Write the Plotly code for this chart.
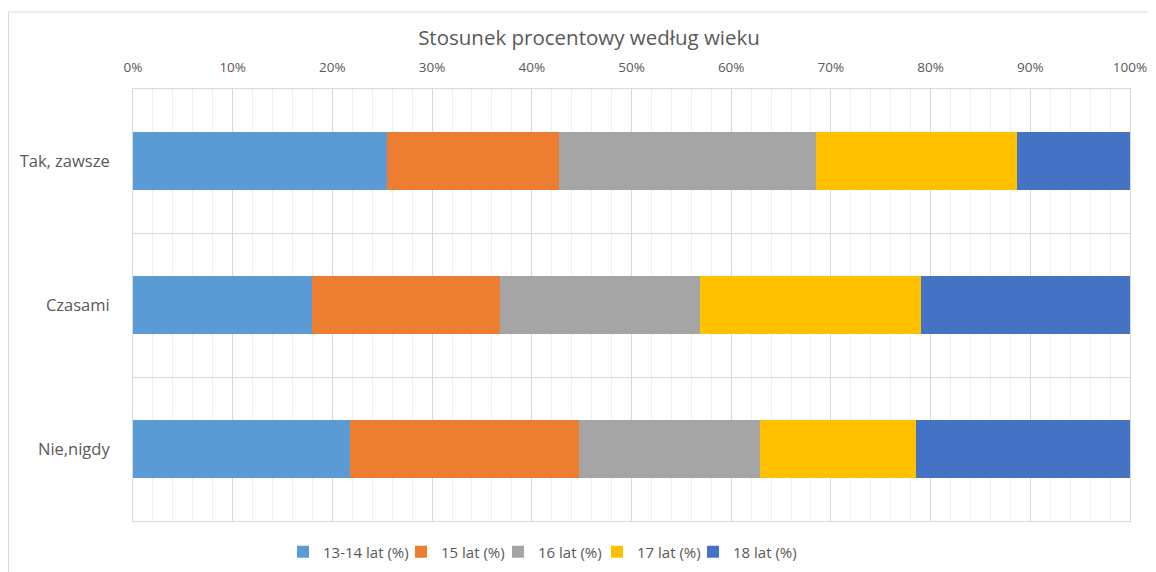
import plotly.graph_objects as go

categories = ["Tak, zawsze", "Czasami", "Nie,nigdy"]
series_names = ["13-14 lat (%)", "15 lat (%)", "16 lat (%)", "17 lat (%)", "18 lat (%)"]
v_13_14 = [25.5, 18.0, 21.8]
v_15 = [17.2, 18.8, 22.9]
v_16 = [25.8, 20.1, 18.2]
v_17 = [20.2, 22.1, 15.6]
v_18 = [11.3, 21.0, 21.5]
colors = ["#5B9BD5", "#ED7D31", "#A5A5A5", "#FFC000", "#4472C4"]
legend_item_widths = [73, 52, 54, 51, 62]
x_ticks = list(range(0, 101, 10))

series_values = [v_13_14, v_15, v_16, v_17, v_18]
ypos = list(range(len(categories)))

fig = go.Figure()
for name, vals, col, lw in zip(series_names, series_values, colors, legend_item_widths):
    fig.add_trace(go.Bar(
        y=ypos, x=vals, name=name, orientation="h",
        marker=dict(color=col, line=dict(width=0)),
        width=0.4, legendwidth=lw,
    ))

# page body has an 8px margin, so the figure is 8px smaller than the window
W, H = 1148, 564
L, R, T, B = 125, 26, 81, 51
PW, PH = W - L - R, H - T - B

font_fam = "Open Sans, Noto Sans, sans-serif"
fig.update_layout(
    barmode="stack",
    width=W, height=H, autosize=False,
    margin=dict(l=L, r=R, t=T, b=B, autoexpand=False),
    paper_bgcolor="white", plot_bgcolor="white",
    font=dict(family=font_fam, color="#595959"),
    title=dict(text="Stosunek procentowy według wieku", x=581 / W, xref="container",
               xanchor="center", y=1 - 30 / H, yanchor="middle",
               font=dict(size=20.5, color="#595959", family=font_fam)),
    showlegend=True,
    legend=dict(orientation="h", x=275 / W, xref="container", xanchor="left",
                y=1 - 544 / H, yref="container", yanchor="middle",
                font=dict(size=15, color="#595959"),
                traceorder="normal", itemwidth=30),
    xaxis=dict(
        side="top", range=[0, 100], tickvals=x_ticks,
        ticktext=[f"{t}%" for t in x_ticks],
        tickfont=dict(size=13.5, color="#595959"),
        showgrid=True, gridcolor="#D9D9D9", gridwidth=1,
        minor=dict(dtick=2, tick0=0, showgrid=True, gridcolor="#EFEFEF", gridwidth=1),
        zeroline=False, showline=True, linecolor="#D9D9D9", mirror=True,
        ticks="", ticklabelstandoff=11, fixedrange=True, automargin=False,
    ),
    yaxis=dict(
        range=[2.5, -0.5], tickvals=ypos, ticktext=categories,
        tickfont=dict(size=16.5, color="#595959"),
        showgrid=False,
        minor=dict(tickvals=[0.5, 1.5], showgrid=True, gridcolor="#D9D9D9", gridwidth=1, ticks=""),
        zeroline=False, showline=True, linecolor="#D9D9D9", mirror=True,
        ticks="", ticklabelstandoff=19, fixedrange=True, automargin=False,
    ),
    bargap=0.6,
)

# outer chart border (only left and top visible in the reference)
fig.add_shape(type="rect", xref="paper", yref="paper",
              x0=(0.5 - L) / PW, x1=1.2, y0=-0.3, y1=(T + PH - 4) / PH,
              line=dict(color="#D9D9D9", width=1), layer="below")

fig.write_html("out.html")
